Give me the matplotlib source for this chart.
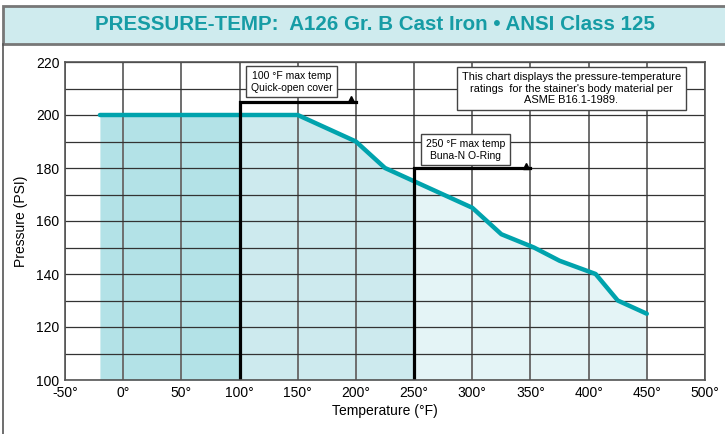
import numpy as np
import matplotlib.pyplot as plt
from matplotlib.patches import Rectangle

plt.rcParams['font.family'] = ['Liberation Sans', 'DejaVu Sans']

# pressure-temperature rating (ASME B16.1, class 125)
temps = [-20, 150, 200, 225, 250, 275, 300, 325, 353, 375, 406, 425, 450]
psi = [200, 200, 190, 180, 175, 170, 165, 155, 150, 145, 140, 130, 125]

# shaded zones (temperature limits of covers / seals)
zone_edges = [-20, 100, 250, 450]
zone_colors = ['#b3e2e7', '#cdeaee', '#e4f4f6']

xticks = list(range(-50, 501, 50))
xlabels = ['%d°' % t for t in xticks]
yticks = list(range(100, 221, 20))

# limit brackets: temp, height, end temp, label, label pos
limits = [
    (100, 205, 200, '100 °F max temp\nQuick-open cover', (145, 212.5)),
    (250, 180, 350, '250 °F max temp\nBuna-N O-Ring', (294, 186.8)),
]
note = ("This chart displays the pressure-temperature\n"
        "ratings  for the stainer's body material per\n"
        "ASME B16.1-1989.")

fig = plt.figure(figsize=(7.25, 4.34), dpi=100)

# title band
fig.patches.append(Rectangle((3 / 725, 1 - 44 / 434), 1.0, 38 / 434,
                             transform=fig.transFigure, facecolor='#cfebee',
                             edgecolor='#777777', lw=2, zorder=0))
fig.add_artist(plt.Line2D([3 / 725, 3 / 725], [0, 1 - 44 / 434],
                          transform=fig.transFigure, color='#555555', lw=1.2))
fig.text(0.517, 1 - 25 / 434, 'PRESSURE-TEMP:  A126 Gr. B Cast Iron • ANSI Class 125',
         ha='center', va='center', fontsize=14.8, fontweight='bold', color='#169ca5')

ax = fig.add_axes([65 / 725, 54 / 434, 640 / 725, 318 / 434])
ax.set_xlim(-50, 500)
ax.set_ylim(100, 220)

# zone fills clipped to each band
for lo, hi, c in zip(zone_edges[:-1], zone_edges[1:], zone_colors):
    poly = ax.fill_between(temps, 100, psi, color=c, lw=0, zorder=2)
    clip = Rectangle((lo, 100), hi - lo, 120, transform=ax.transData)
    poly.set_clip_path(clip)

# grid
for x in xticks:
    ax.axvline(x, color='#6e6e6e', lw=1.4, zorder=2.5)
for y in range(100, 221, 10):
    ax.axhline(y, color='#333333', lw=0.9, zorder=2.5)

ax.plot(temps, psi, color='#00a3ad', lw=3.2, solid_capstyle='round', zorder=4)

for t, h, t_end, label, (lx, ly) in limits:
    ax.plot([t, t, t_end], [100, h, h], color='black', lw=2.3, zorder=5,
            solid_joinstyle='miter')
    ax.plot(t_end - 4, h + 0.9, marker='^', color='black', ms=4.5, zorder=5)
    ax.text(lx, ly, label, ha='center', va='center', fontsize=7.5, zorder=6,
            bbox=dict(boxstyle='square,pad=0.45', fc='white', ec='#444444', lw=1))

ax.text(385, 210, note, ha='center', va='center', fontsize=7.9, zorder=6,
        linespacing=1.2,
        bbox=dict(boxstyle='square,pad=0.45', fc='white', ec='#444444', lw=1))

ax.set_xticks(xticks)
ax.set_xticklabels(xlabels)
ax.set_yticks(yticks)
ax.tick_params(length=0, labelsize=10, pad=4)
for s in ax.spines.values():
    s.set_color('#555555')
    s.set_linewidth(1.2)
    s.set_zorder(6)
ax.set_xlabel('Temperature (°F)', fontsize=10, labelpad=3)
ax.set_ylabel('Pressure (PSI)', fontsize=10, labelpad=6)

plt.savefig('out.png', dpi=100)
